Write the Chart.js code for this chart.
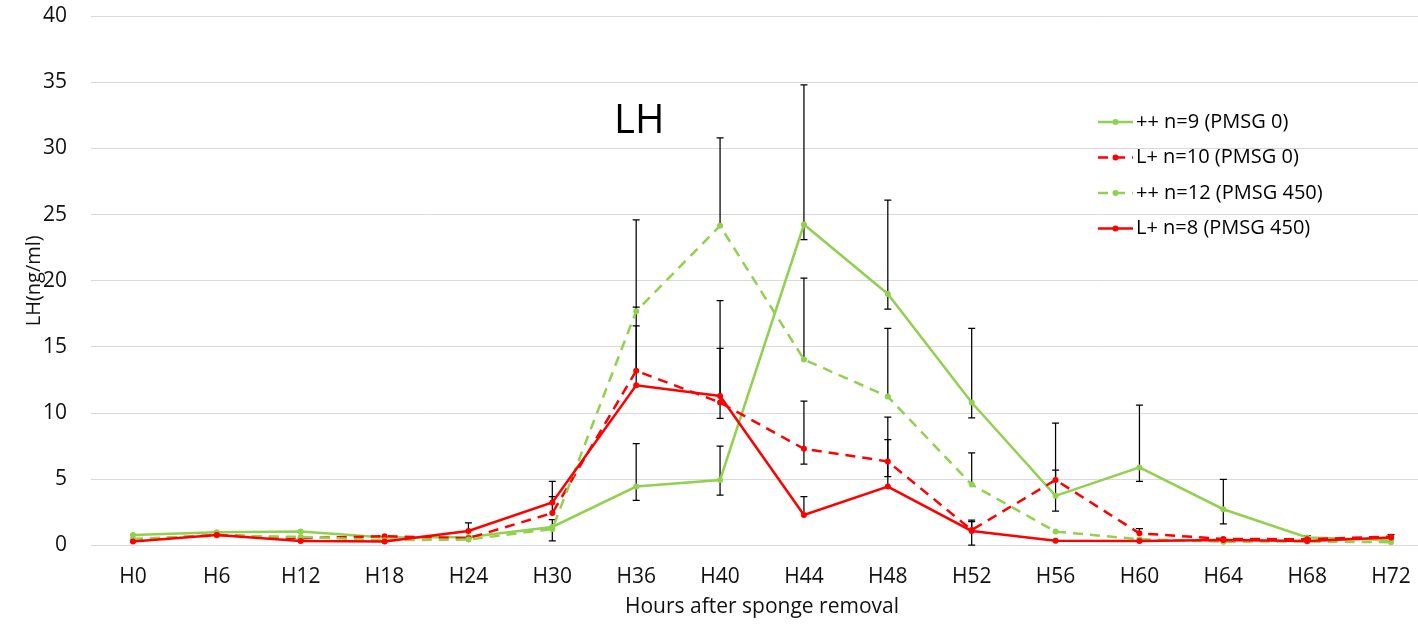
<!DOCTYPE html>
<html>
<head>
<meta charset="utf-8">
<script src="https://cdn.jsdelivr.net/npm/chart.js@4/dist/chart.umd.min.js"></script>
<style>
  html, body { margin: 0; padding: 0; background: #fff; overflow: hidden; }
  #wrap { width: 1440px; height: 626px; }
</style>
</head>
<body>
<div id="wrap"><canvas id="c" width="1440" height="626"></canvas></div>
<script>
// ---------- data ----------
const categories = ['H0','H6','H12','H18','H24','H30','H36','H40','H44','H48','H52','H56','H60','H64','H68','H72'];
const yTicks = [0, 5, 10, 15, 20, 25, 30, 35, 40];

const seriesNames = ['++ n=9 (PMSG 0)', 'L+ n=10 (PMSG 0)', '++ n=12 (PMSG 450)', 'L+ n=8 (PMSG 450)'];

const ppPmsg0  = [0.8, 1.0, 1.05, 0.6, 0.65, 1.4, 4.45, 4.95, 24.25, 19.0, 10.8, 3.75, 5.9, 2.74, 0.6, 0.42];
const lpPmsg0  = [0.4, 0.8, 0.55, 0.7, 0.55, 2.45, 13.2, 10.8, 7.3, 6.35, 1.17, 4.95, 0.92, 0.5, 0.47, 0.67];
const ppPmsg450 = [0.5, 0.75, 0.65, 0.4, 0.45, 1.25, 17.7, 24.15, 14.05, 11.25, 4.6, 1.05, 0.47, 0.29, 0.3, 0.25];
const lpPmsg450 = [0.3, 0.8, 0.34, 0.3, 1.1, 3.25, 12.1, 11.3, 2.3, 4.45, 1.1, 0.36, 0.34, 0.42, 0.34, 0.6];

// error bars (plus / minus amounts)
const ppPmsg0Plus   = [0, 0.05, 0, 0, 0, 0.55, 3.25, 2.55, 10.55, 7.1, 5.6, 5.5, 4.7, 2.25, 0.15, 0];
const ppPmsg0Minus  = [0, 0, 0, 0, 0, 1.05, 1.05, 1.15, 1.15, 1.15, 1.15, 1.15, 1.05, 1.1, 0, 0];
const lpPmsg0Plus   = [0, 0, 0, 0, 0, 1.25, 4.8, 7.7, 3.6, 3.35, 0.75, 0.75, 0.35, 0, 0, 0.15];
const lpPmsg0Minus  = [0, 0, 0, 0, 0, 0, 0, 1.2, 1.15, 1.15, 1.15, 0, 0, 0, 0, 0];
const ppPmsg450Plus = [0, 0, 0, 0, 0, 0, 6.9, 6.65, 6.15, 5.15, 2.4, 0, 0, 0, 0, 0];
const ppPmsg450Minus= [0, 0, 0, 0, 0, 0, 0, 0, 0, 0, 0, 0, 0, 0, 0, 0];
const lpPmsg450Plus = [0, 0, 0, 0, 0.6, 1.6, 4.5, 3.6, 1.4, 3.55, 0.7, 0, 0, 0, 0, 0];
const lpPmsg450Minus= [0, 0, 0, 0, 0, 0, 0, 0, 0, 0, 0, 0, 0, 0, 0, 0];

// ---------- styles ----------
const GREEN = '#92d050';
const RED = '#ff0000';
const FONT = 'Open Sans';
const TEXT = '#111111';
const DASH = [10, 7];

function ds(label, data, color, dashed, order, plus, minus) {
  return {
    label, data, order,
    borderColor: color, backgroundColor: color,
    borderWidth: 2.5, borderDash: dashed ? DASH : [],
    pointRadius: 3, pointBorderWidth: 0, pointBackgroundColor: color,
    tension: 0, fill: false,
    errPlus: plus, errMinus: minus
  };
}

const datasets = [
  ds(seriesNames[0], ppPmsg0,  GREEN, false, 4, ppPmsg0Plus,  ppPmsg0Minus),
  ds(seriesNames[1], lpPmsg0,  RED,   true,  3, lpPmsg0Plus,  lpPmsg0Minus),
  ds(seriesNames[2], ppPmsg450, GREEN, true, 2, ppPmsg450Plus, ppPmsg450Minus),
  ds(seriesNames[3], lpPmsg450, RED,  false, 1, lpPmsg450Plus, lpPmsg450Minus)
];

// ---------- plugins ----------
const errorBars = {
  id: 'errorBars',
  beforeDatasetsDraw(chart) {
    const {ctx, chartArea: a, scales: {x, y}} = chart;
    ctx.save();
    ctx.beginPath();
    ctx.rect(a.left, a.top, a.right - a.left, a.bottom - a.top + 3);
    ctx.clip();
    ctx.strokeStyle = '#000';
    ctx.lineWidth = 1.25;
    const cap = 3.5;
    chart.data.datasets.forEach((d) => {
      d.data.forEach((v, i) => {
        const px = x.getPixelForValue(i);
        const py = y.getPixelForValue(v);
        const p = d.errPlus[i], m = d.errMinus[i];
        if (p > 0) {
          const t = y.getPixelForValue(v + p);
          ctx.beginPath();
          ctx.moveTo(px, py); ctx.lineTo(px, t);
          ctx.moveTo(px - cap, t); ctx.lineTo(px + cap, t);
          ctx.stroke();
        }
        if (m > 0) {
          const b = y.getPixelForValue(v - m);
          ctx.beginPath();
          ctx.moveTo(px, py); ctx.lineTo(px, b);
          ctx.moveTo(px - cap, b); ctx.lineTo(px + cap, b);
          ctx.stroke();
        }
      });
    });
    ctx.restore();
  }
};

const overlay = {
  id: 'overlay',
  afterDraw(chart) {
    const {ctx} = chart;
    ctx.save();
    // big "LH" label
    ctx.fillStyle = '#000';
    ctx.font = `40px "${FONT}"`;
    ctx.textAlign = 'left';
    ctx.textBaseline = 'alphabetic';
    ctx.fillText('LH', 614, 133);
    // legend inside the plot
    ctx.font = `20px "${FONT}"`;
    ctx.textBaseline = 'middle';
    chart.data.datasets.forEach((d, i) => {
      const yy = 122 + i * 35.5;
      ctx.strokeStyle = d.borderColor;
      ctx.lineWidth = d.borderWidth;
      ctx.setLineDash(d.borderDash);
      ctx.beginPath();
      ctx.moveTo(1098, yy); ctx.lineTo(1133, yy);
      ctx.stroke();
      ctx.setLineDash([]);
      ctx.fillStyle = d.borderColor;
      ctx.beginPath();
      ctx.arc(1115.5, yy, 3, 0, Math.PI * 2);
      ctx.fill();
      ctx.fillStyle = '#000';
      ctx.fillText(d.label, 1136, yy);
    });
    ctx.restore();
  }
};

new Chart(document.getElementById('c'), {
  type: 'line',
  data: { labels: categories, datasets },
  options: {
    responsive: false,
    animation: false,
    events: [],
    layout: { padding: { left: 0, right: 7, top: 16, bottom: 0 } },
    plugins: { legend: { display: false }, tooltip: { enabled: false } },
    scales: {
      x: {
        offset: true,
        grid: { display: false, drawTicks: false },
        border: { display: false },
        ticks: { font: { family: FONT, size: 21 }, color: TEXT, padding: 19, maxRotation: 0, autoSkip: false },
        title: { display: true, text: 'Hours after sponge removal', color: TEXT,
                 font: { family: FONT, size: 21 }, padding: { top: 0, bottom: 6 } },
        afterFit(s) { s.height = 80.5; }
      },
      y: {
        min: 0, max: 40,
        afterBuildTicks(s) { s.ticks = yTicks.map(v => ({ value: v })); },
        grid: { color: '#d9d9d9', lineWidth: 1, drawTicks: true, tickLength: 24, tickColor: 'rgba(0,0,0,0)' },
        border: { display: false },
        ticks: { font: { family: FONT, size: 21 }, color: TEXT, padding: 0 },
        title: { display: true, text: 'LH(ng/ml)', color: TEXT,
                 font: { family: FONT, size: 20 }, padding: { top: 22, bottom: 0 } },
        afterFit(s) { s.width = 91; }
      }
    }
  },
  plugins: [errorBars, overlay]
});
</script>
</body>
</html>
